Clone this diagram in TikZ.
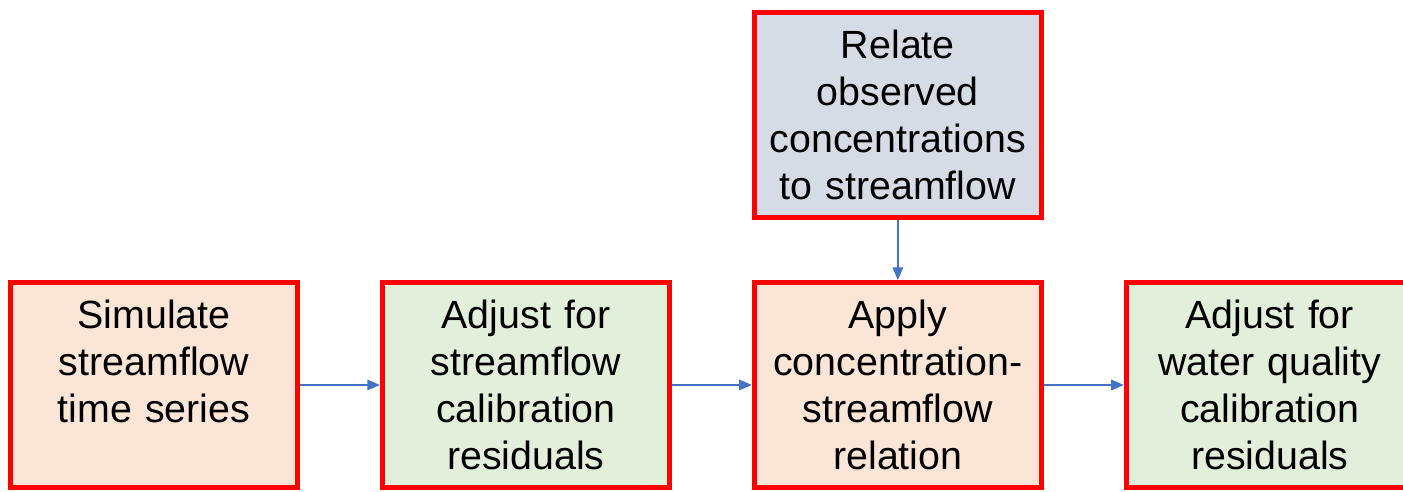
\documentclass[tikz,border=0pt]{standalone}
\usepackage{fontspec}
\setmainfont{Liberation Sans}
\usetikzlibrary{positioning,arrows.meta}

\definecolor{boxred}{HTML}{FF0000}
\definecolor{peach}{HTML}{FBE5D6}
\definecolor{sage}{HTML}{E2EFDA}
\definecolor{slate}{HTML}{D6DCE5}
\definecolor{linkblue}{HTML}{4472C4}

\tikzset{
  stepbox/.style={draw=boxred,line width=1.4pt,minimum width=2.87cm,minimum height=2.05cm,
    text width=2.75cm,align=center,inner sep=0pt,font=\fontsize{11.2}{13.4}\selectfont},
  link/.style={draw=linkblue,line width=.4pt,-{Triangle[length=3.6pt,width=3pt]}}
}

\begin{document}
\begin{tikzpicture}[node distance=0.8cm]
\useasboundingbox (0,0) rectangle (14.03,4.92);
\node[stepbox,fill=peach] (simulate) at (1.54,1.07) {Simulate\\streamflow\\time series\\~};
\node[stepbox,fill=sage,right=of simulate] (adjustflow) {Adjust for\\streamflow\\calibration\\residuals};
\node[stepbox,fill=peach,right=of adjustflow] (apply) {Apply\\concentration-\\streamflow\\relation};
\node[stepbox,fill=sage,right=of apply] (adjustwq) {Adjust for\\water quality\\calibration\\residuals};
\node[stepbox,fill=slate,above=0.6cm of apply] (relate) {Relate\\observed\\concentrations\\to streamflow};
% connectors
\draw[link] (simulate) -- (adjustflow);
\draw[link] (adjustflow) -- (apply);
\draw[link] (apply) -- (adjustwq);
\draw[link] (relate) -- (apply);
\end{tikzpicture}
\end{document}
